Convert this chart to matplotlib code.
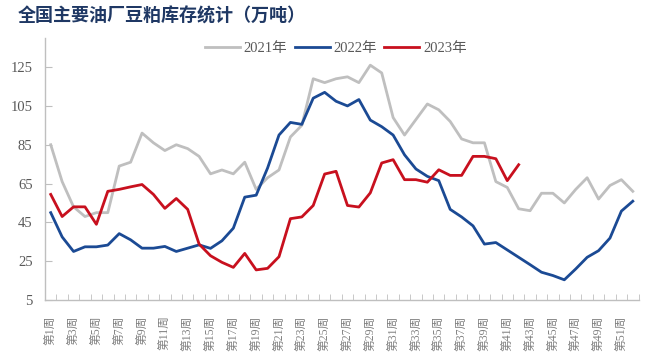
import numpy as np
from matplotlib import pyplot as plt
from matplotlib.ticker import FixedLocator

weeks = list(range(1, 53))
week_labels = [f"第{w}周" for w in range(1, 53, 2)]

stock_2021 = [85, 66, 53, 48, 50, 50, 74, 76, 91, 86, 82, 85, 83, 79, 70, 72, 70, 76, 62, 68,
              72, 89, 95, 119, 117, 119, 120, 117, 126, 122, 99, 90, 98, 106, 103, 97, 88, 86, 86, 66,
              63, 52, 51, 60, 60, 55, 62, 68, 57, 64, 67, 61]
stock_2022 = [50, 37.5, 30, 32.4, 32.4, 33.3, 39.2, 36, 31.7, 31.7, 32.6, 30, 31.7, 33.4, 31.6, 35.5,
              42, 58, 59, 73, 90, 96.5, 95.5, 109, 112, 107.4, 105, 108.3, 97.7, 94.3, 90, 79.8,
              72.5, 68.7, 66.5, 51.7, 47.8, 43.2, 33.8, 34.6, 30.8, 27, 23.2, 19.3, 17.6, 15.4,
              21, 27, 30.4, 36.9, 50.8, 55.9]
stock_2023 = [59.4, 48, 53, 53, 44, 61, 62, 63.3, 64.5, 59.4, 52.2, 57.3, 51.7, 33.8, 27.8, 24.4,
              21.8, 29, 20.5, 21.3, 27.3, 46.9, 47.8, 53.7, 69.9, 71.3, 53.7, 52.9, 60.2, 75.6,
              77.3, 67, 67, 65.7, 72.1, 69.2, 69.2, 79, 79, 77.8, 66.5, 74.7]

series = [("2021年", stock_2021, "#BFBFBF"),
          ("2022年", stock_2022, "#1B4A94"),
          ("2023年", stock_2023, "#C8101E")]

serif = ["Liberation Serif", "Noto Sans CJK SC"]
axis_grey = "#BFBFBF"
text_grey = "#595959"

fig = plt.figure(figsize=(6.46, 3.63), dpi=100)
ax = fig.add_axes([0.0697, 0.1736, 0.9187, 0.7217])

for name, vals, color in series:
    ax.plot(weeks[:len(vals)], vals, color=color, linewidth=2.0, label=name)

ax.set_xlim(0.5, 52.5)
ax.set_ylim(5, 140)
ax.set_yticks(np.arange(5, 126, 20))
ax.set_xticks(range(1, 53, 2))
ax.set_xticklabels(week_labels, rotation=90, va="top", ha="center",
                   family=serif, fontsize=8.5, color="#808080")
ax.xaxis.set_minor_locator(FixedLocator(np.arange(0.5, 53, 1)))
ax.tick_params(axis="x", which="major", length=0, pad=11)
ax.tick_params(axis="x", which="minor", direction="in", length=4, color=axis_grey)
ax.tick_params(axis="y", direction="in", length=5, color=axis_grey, pad=9,
               labelsize=10.5, labelcolor=text_grey)
for lab in ax.get_yticklabels():
    lab.set_family(serif)

for side in ("top", "right"):
    ax.spines[side].set_visible(False)
for side in ("left", "bottom"):
    ax.spines[side].set_color(axis_grey)
    ax.spines[side].set_linewidth(1.0)

leg = ax.legend(loc="upper center", bbox_to_anchor=(0.49, 1.035), ncol=3, frameon=False,
                prop={"family": serif, "size": 10.5}, handlelength=2.4, columnspacing=0.5,
                handletextpad=0.25)
for t in leg.get_texts():
    t.set_color(text_grey)

fig.text(0.028, 0.955, "全国主要油厂豆粕库存统计（万吨）", fontsize=13, fontweight="bold",
         color="#1F3864", family=["Noto Sans CJK SC", "DejaVu Sans"], va="center", ha="left")

fig.savefig("out.png", dpi=100)
